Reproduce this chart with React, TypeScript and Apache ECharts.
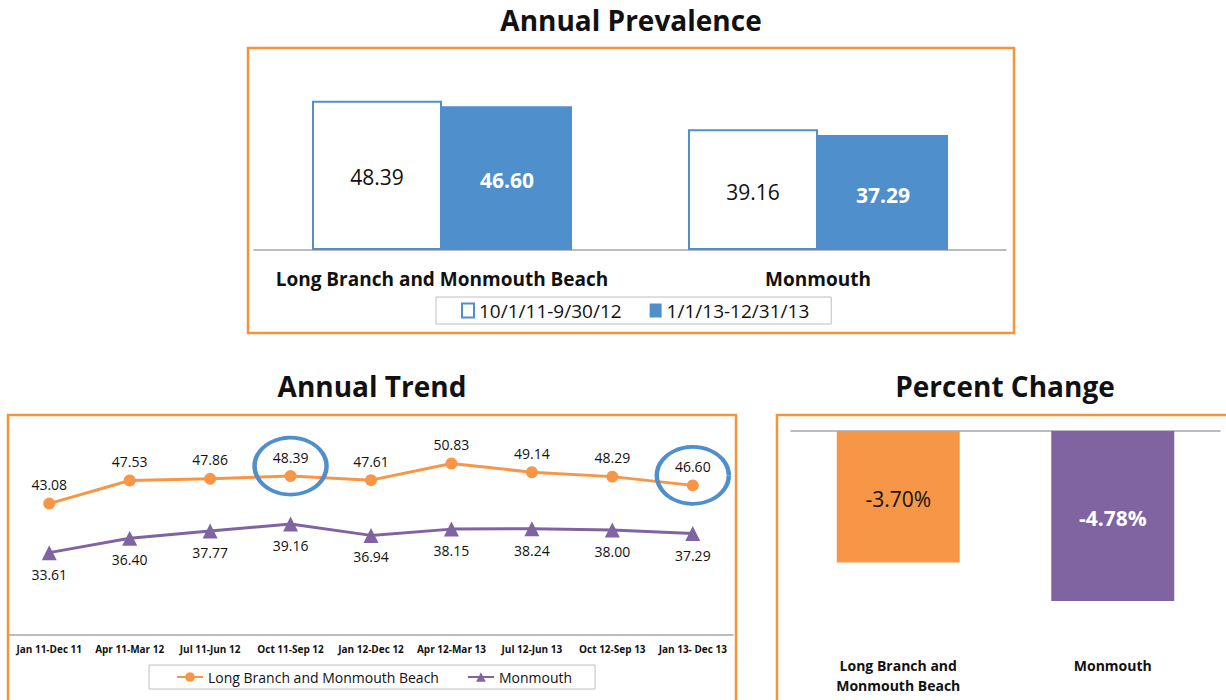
import React, { useEffect, useRef } from "react";
import * as echarts from "echarts";

const prevCategories = ["Long Branch and Monmouth Beach", "Monmouth"];
const prevSeriesNames = ["10/1/11-9/30/12", "1/1/13-12/31/13"];
const prevPeriod1 = [48.39, 39.16];
const prevPeriod2 = [46.6, 37.29];

const trendCategories = [
  "Jan 11-Dec 11",
  "Apr 11-Mar 12",
  "Jul 11-Jun 12",
  "Oct 11-Sep 12",
  "Jan 12-Dec 12",
  "Apr 12-Mar 13",
  "Jul 12-Jun 13",
  "Oct 12-Sep 13",
  "Jan 13- Dec 13",
];
const trendSeriesNames = ["Long Branch and Monmouth Beach", "Monmouth"];
const trendLongBranch = [43.08, 47.53, 47.86, 48.39, 47.61, 50.83, 49.14, 48.29, 46.6];
const trendMonmouth = [33.61, 36.4, 37.77, 39.16, 36.94, 38.15, 38.24, 38.0, 37.29];
const highlightedIndexes = [3, 8];

const changeCategories = ["Long Branch and\nMonmouth Beach", "Monmouth"];
const changeValues = [-3.7, -4.78];

const titles = ["Annual Prevalence", "Annual Trend", "Percent Change"];

const FONT = "'Open Sans', 'Noto Sans', sans-serif";
const ORANGE_BOX = "#F5943A";
const BLUE = "#4F8FCC";
const ORANGE = "#F79646";
const PURPLE = "#8064A2";
const AXIS_GRAY = "#A6A6A6";
const TXT = "#111111";

export default function App() {
  const ref = useRef<HTMLDivElement>(null);

  useEffect(() => {
    if (!ref.current) return;
    const chart = echarts.init(ref.current, undefined, { renderer: "svg" });

    const titleStyle = {
      fontFamily: FONT,
      fontSize: 28,
      fontWeight: "bold",
      fill: TXT,
      textAlign: "center",
      textVerticalAlign: "middle",
    };

    const option: any = {
      animation: false,
      backgroundColor: "#ffffff",
      textStyle: { fontFamily: FONT },
      graphic: [
        { type: "text", x: 631, y: 20, style: { ...titleStyle, text: titles[0] } },
        { type: "text", x: 372, y: 386, style: { ...titleStyle, text: titles[1] } },
        { type: "text", x: 1005, y: 386, style: { ...titleStyle, text: titles[2] } },
        {
          type: "rect",
          shape: { x: 248, y: 48, width: 766, height: 285 },
          style: { fill: "none", stroke: ORANGE_BOX, lineWidth: 2.5 },
          silent: true,
        },
        {
          type: "rect",
          shape: { x: 8, y: 415, width: 728, height: 300 },
          style: { fill: "none", stroke: ORANGE_BOX, lineWidth: 2.5 },
          silent: true,
        },
        {
          type: "rect",
          shape: { x: 777, y: 415, width: 470, height: 300 },
          style: { fill: "none", stroke: ORANGE_BOX, lineWidth: 2.5 },
          silent: true,
        },
      ],
      legend: [
        {
          left: 436,
          top: 297,
          padding: [4, 22, 4, 25],
          borderColor: "#BFBFBF",
          borderWidth: 1,
          itemWidth: 12,
          itemHeight: 14,
          itemGap: 28,
          textStyle: { fontFamily: FONT, fontSize: 19, color: TXT },
          data: [
            {
              name: prevSeriesNames[0],
              icon: "rect",
              itemStyle: { color: "#ffffff", borderColor: BLUE, borderWidth: 2 },
            },
            { name: prevSeriesNames[1], icon: "rect", itemStyle: { color: BLUE } },
          ],
        },
        {
          left: 149,
          top: 665,
          padding: [5, 23, 5, 27],
          borderColor: "#BFBFBF",
          borderWidth: 1,
          itemWidth: 26,
          itemHeight: 12,
          itemGap: 28,
          textStyle: { fontFamily: FONT, fontSize: 14, color: TXT },
          data: trendSeriesNames,
        },
      ],
      grid: [
        { left: 254, top: 65, width: 752, height: 185 },
        { left: 9, top: 416, width: 724, height: 219 },
        { left: 791, top: 431, width: 429, height: 213.4 },
      ],
      xAxis: [
        {
          type: "category",
          gridIndex: 0,
          data: prevCategories,
          axisLine: { show: true, onZero: false, lineStyle: { color: AXIS_GRAY, width: 1.5 } },
          axisTick: { show: false },
          axisLabel: {
            interval: 0,
            margin: 19,
            fontFamily: FONT,
            fontSize: 19,
            fontWeight: "bold",
            color: TXT,
          },
        },
        {
          type: "category",
          gridIndex: 1,
          data: trendCategories,
          axisLine: { show: true, onZero: false, lineStyle: { color: AXIS_GRAY, width: 1.5 } },
          axisTick: { show: false },
          axisLabel: {
            margin: 9,
            fontFamily: FONT,
            fontSize: 10,
            fontWeight: "bold",
            color: TXT,
            interval: 0,
          },
        },
        {
          type: "category",
          gridIndex: 2,
          position: "top",
          data: changeCategories,
          axisLine: { show: true, onZero: false, lineStyle: { color: AXIS_GRAY, width: 1.5 } },
          axisTick: { show: false },
          axisLabel: { show: false },
        },
        {
          type: "category",
          gridIndex: 2,
          position: "bottom",
          data: changeCategories,
          axisLine: { show: false, onZero: false },
          axisTick: { show: false },
          axisLabel: {
            interval: 0,
            margin: 11,
            fontFamily: FONT,
            fontSize: 14,
            lineHeight: 20,
            fontWeight: "bold",
            color: TXT,
          },
        },
      ],
      yAxis: [
        { type: "value", gridIndex: 0, min: 0, max: 60, show: false },
        { type: "value", gridIndex: 1, min: 17.7, max: 60, show: false },
        { type: "value", gridIndex: 2, min: -6, max: 0, show: false },
      ],
      series: [
        {
          name: prevSeriesNames[0],
          type: "bar",
          xAxisIndex: 0,
          yAxisIndex: 0,
          data: prevPeriod1,
          barWidth: 130,
          barGap: "0%",
          itemStyle: { color: "#ffffff", borderColor: BLUE, borderWidth: 2 },
          label: {
            show: true,
            position: "inside",
            fontFamily: FONT,
            fontSize: 21,
            color: TXT,
            offset: [0, 2],
            formatter: (p: any) => Number(p.value).toFixed(2),
          },
        },
        {
          name: prevSeriesNames[1],
          type: "bar",
          xAxisIndex: 0,
          yAxisIndex: 0,
          data: prevPeriod2,
          barWidth: 130,
          barGap: "0%",
          itemStyle: { color: BLUE },
          label: {
            show: true,
            position: "inside",
            fontFamily: FONT,
            fontSize: 21,
            fontWeight: "bold",
            color: "#ffffff",
            offset: [0, 2],
            formatter: (p: any) => Number(p.value).toFixed(2),
          },
        },
        {
          name: trendSeriesNames[0],
          type: "line",
          xAxisIndex: 1,
          yAxisIndex: 1,
          data: trendLongBranch,
          symbol: "circle",
          symbolSize: 12,
          color: ORANGE,
          lineStyle: { color: ORANGE, width: 3 },
          itemStyle: { color: ORANGE },
          label: {
            show: true,
            position: "top",
            distance: 6,
            fontFamily: FONT,
            fontSize: 14,
            color: TXT,
            formatter: (p: any) => Number(p.value).toFixed(2),
          },
          markPoint: {
            symbol: "circle",
            symbolSize: [72, 57],
            symbolOffset: [0, -10],
            silent: true,
            itemStyle: { color: "rgba(0,0,0,0)", borderColor: BLUE, borderWidth: 4 },
            label: { show: false },
            data: highlightedIndexes.map((i) => ({ coord: [i, trendLongBranch[i]] })),
          },
        },
        {
          name: trendSeriesNames[1],
          type: "line",
          xAxisIndex: 1,
          yAxisIndex: 1,
          data: trendMonmouth,
          symbol: "triangle",
          symbolSize: 15,
          color: PURPLE,
          lineStyle: { color: PURPLE, width: 3 },
          itemStyle: { color: PURPLE },
          label: {
            show: true,
            position: "bottom",
            distance: 7,
            fontFamily: FONT,
            fontSize: 14,
            color: TXT,
            formatter: (p: any) => Number(p.value).toFixed(2),
          },
        },
        {
          name: "Percent Change",
          type: "bar",
          xAxisIndex: 2,
          yAxisIndex: 2,
          barWidth: 123,
          data: changeValues.map((v, i) => ({
            value: v,
            itemStyle: { color: i === 0 ? ORANGE : PURPLE },
            label: {
              color: i === 0 ? TXT : "#ffffff",
              fontWeight: i === 0 ? "normal" : "bold",
            },
          })),
          label: {
            show: true,
            position: "inside",
            fontFamily: FONT,
            fontSize: 21,
            offset: [0, 2],
            formatter: (p: any) => Number(p.value).toFixed(2) + "%",
          },
        },
      ],
    };

    chart.setOption(option);
    return () => chart.dispose();
  }, []);

  return (
    <div
      ref={ref}
      style={{ position: "absolute", left: 0, top: 0, width: 1226, height: 700 }}
    />
  );
}
